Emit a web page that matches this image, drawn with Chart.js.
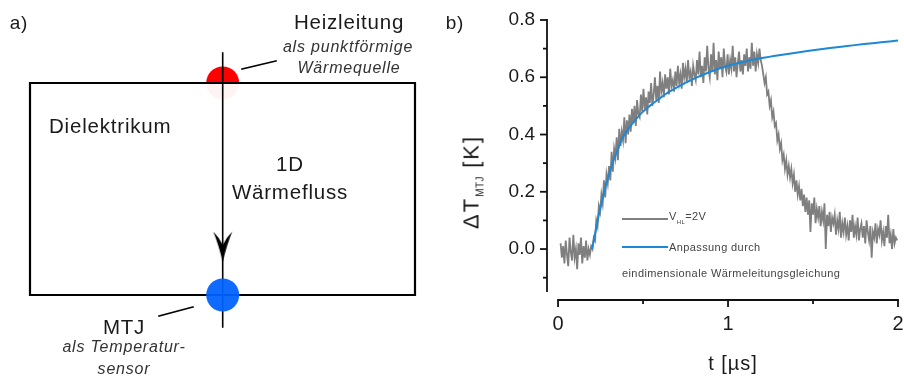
<!DOCTYPE html>
<html>
<head>
<meta charset="utf-8">
<script src="https://cdn.jsdelivr.net/npm/chart.js@4.4.0/dist/chart.umd.min.js"></script>
<style>
  html, body { margin:0; padding:0; background:#fff; }
  #wrap { position:relative; width:904px; height:378px; overflow:hidden; font-family:"Liberation Sans", Arial, sans-serif; color:#1a1a1a; }
  canvas { position:absolute; top:0; }
  .t { position:absolute; white-space:nowrap; line-height:1; }
  .c { transform:translate(-50%,-50%); }
  .l { transform:translate(0,-50%); }
  .big { font-size:20.5px; letter-spacing:0.8px; }
  .it { font-style:italic; font-size:16px; letter-spacing:0.8px; color:#333; }
  .leg { font-size:11px; letter-spacing:0.4px; color:#444; }
  .line { position:absolute; height:2px; }
</style>
</head>
<body>
<div id="wrap">
  <canvas id="schema" width="450" height="378" style="left:0;width:450px;height:378px"></canvas>
  <canvas id="plot" width="454" height="378" style="left:450px;width:454px;height:378px"></canvas>

  <div class="t c big" style="left:19px;top:22px;font-size:19px">a)</div>
  <div class="t c big" style="left:349px;top:22px">Heizleitung</div>
  <div class="t c it" style="left:348px;top:47px">als punktförmige</div>
  <div class="t c it" style="left:349px;top:68px">Wärmequelle</div>
  <div class="t l big" style="left:49px;top:126px">Dielektrikum</div>
  <div class="t c big" style="left:290px;top:164px">1D</div>
  <div class="t c big" style="left:290px;top:192px">Wärmefluss</div>
  <div class="t c big" style="left:124px;top:327px">MTJ</div>
  <div class="t c it" style="left:124px;top:347px">als Temperatur-</div>
  <div class="t c it" style="left:124px;top:369px">sensor</div>

  <div class="t c big" style="left:455px;top:22px;font-size:19px">b)</div>
  <div class="t" style="left:473px;top:182px;transform:translate(-50%,-50%) rotate(-90deg);font-size:22px;letter-spacing:2px">ΔT<sub style="font-size:10px;vertical-align:-5px;letter-spacing:0.5px">MTJ</sub> [K]</div>
  <div class="t c" style="left:733px;top:363px;font-size:20px;letter-spacing:1px">t [µs]</div>

  <div class="line" style="left:622px;top:218px;width:46px;height:1.5px;background:#7f7f7f"></div>
  <div class="t l leg" style="left:669px;top:218px">V<sub style="font-size:6px;vertical-align:-4px">HL</sub>=2V</div>
  <div class="line" style="left:622px;top:246px;width:46px;background:#1c88d6"></div>
  <div class="t l leg" style="left:669px;top:247px">Anpassung durch</div>
  <div class="t l leg" style="left:622px;top:273px">eindimensionale Wärmeleitungsgleichung</div>
</div>

<script>
// ---------------- data: panel b ----------------
const sampleStart = 0.015;   // µs, first oscilloscope sample
const sampleStep = 0.0075;   // µs, sampling interval
const measuredDT = [
  0.02,-0.03,0.01,-0.05,0.03,-0.02,-0.06,0.04,-0.01,-0.04,0.05,-0.03,0.00,-0.07,0.02,-0.02,0.04,-0.05,0.01,-0.03,0.03,-0.04,0.00,-0.02,0.01,
  0.00,0.04,0.03,0.10,0.08,0.15,0.13,0.19,0.16,0.24,0.18,0.26,0.23,0.29,0.24,0.34,0.27,0.35,0.32,0.39,0.31,0.42,0.36,0.41,0.38,0.46,0.37,
  0.45,0.40,0.47,0.41,0.49,0.44,0.50,0.43,0.52,0.47,0.46,0.54,0.48,0.56,0.49,0.53,0.47,0.55,0.51,0.58,0.50,0.54,0.60,0.52,0.57,0.51,0.62,0.55,0.58,0.53,0.61,0.56,0.60,0.54,0.63,0.57,0.59,0.55,0.62,0.57,0.64,0.58,0.61,0.56,0.65,0.60,0.63,0.58,0.66,0.60,0.62,0.57,0.64,0.61,
  0.59,0.66,0.61,0.69,0.60,0.64,0.58,0.67,0.62,0.71,0.63,0.60,0.68,0.62,0.72,0.61,0.66,0.59,0.69,0.63,0.67,0.60,0.70,0.64,0.62,0.68,0.61,0.66,0.63,0.71,0.62,0.67,0.60,0.65,0.69,0.62,0.66,0.61,0.68,0.64,0.70,0.62,0.67,0.63,0.72,0.64,0.69,0.62,0.68,0.65,0.70,0.66,
  0.64,0.61,0.58,0.60,0.54,0.55,0.50,0.52,0.46,0.48,0.43,0.44,0.38,0.40,0.35,0.37,0.31,0.33,0.28,0.31,0.26,0.29,0.25,0.28,0.23,0.26,0.20,0.24,0.19,0.22,0.17,0.21,0.15,0.19,0.13,0.18,0.12,0.17,0.06,0.16,
  0.12,0.18,0.09,0.14,0.11,0.15,0.08,0.13,0.10,0.16,0.00,0.12,0.08,0.13,0.06,0.11,0.09,0.12,0.05,0.10,0.07,0.13,0.04,0.09,0.06,0.11,0.05,0.08,0.03,0.10,0.06,0.12,0.04,0.08,0.05,0.11,0.03,0.07,0.09,0.04,0.08,0.02,0.10,0.06,0.03,0.08,-0.03,0.06,0.04,0.09,0.02,0.07,0.05,0.10,0.03,0.06,0.01,0.08,0.04,0.12,0.02,0.05,0.00,0.07,0.02,0.04,0.03
];
const fitTime = [0.20,0.22,0.24,0.26,0.28,0.30,0.32,0.35,0.38,0.42,0.46,0.50,0.55,0.60,0.65,0.70,0.80,0.90,1.00,1.10,1.20,1.30,1.40,1.50,1.60,1.70,1.80,1.90,2.00];
const fitDT   = [0.00,0.06,0.12,0.17,0.22,0.26,0.30,0.345,0.39,0.425,0.455,0.48,0.505,0.527,0.548,0.565,0.595,0.62,0.64,0.655,0.667,0.677,0.686,0.694,0.702,0.709,0.716,0.722,0.728];
const xTickValues = [0, 1, 2];
const xMinorValues = [0.5, 1.5];
const yTickValues = [0.0, 0.2, 0.4, 0.6, 0.8];
const yMinorValues = [-0.1, 0.1, 0.3, 0.5, 0.7];
const xRange = [-0.065, 2.0];
const yRange = [-0.15, 0.8];

// ---------------- data: panel a (schematic, drawing units) ----------------
const boxX = [30, 415, 415, 30, 30];
const boxY = [83, 83, 295, 295, 83];
const flowX = [222.7, 222.7];
const flowY = [53, 327];
const heaterPos = [222.7, 83];
const sensorPos = [222.7, 295];
const arrowPos = [222.7, 247];
const heaterLeaderX = [242, 276];
const heaterLeaderY = [69, 61];
const sensorLeaderX = [159, 193];
const sensorLeaderY = [316, 307];

const FONT = '"Liberation Sans", Arial, sans-serif';

// ---------------- panel a ----------------
const toPts = (xs, ys) => xs.map((x, i) => ({x, y: ys[i]}));
const arrowImg = document.createElement('canvas');
arrowImg.width = 20; arrowImg.height = 32;
(function(){
  const g = arrowImg.getContext('2d');
  g.fillStyle = '#000';
  g.beginPath();
  g.moveTo(10, 31);
  g.quadraticCurveTo(6, 14, 0.5, 0.5);
  g.quadraticCurveTo(6, 6, 10, 14);
  g.quadraticCurveTo(14, 6, 19.5, 0.5);
  g.quadraticCurveTo(14, 14, 10, 31);
  g.closePath();
  g.fill();
})();

const lineDS = (data, order, width) => ({
  data, order, showLine: true, borderColor: '#000', borderWidth: width,
  pointRadius: 0, fill: false, borderCapStyle: 'square', borderJoinStyle: 'miter'
});

new Chart(document.getElementById('schema'), {
  type: 'scatter',
  data: {
    datasets: [
      { data: [{x: heaterPos[0], y: heaterPos[1]}], order: 10, pointRadius: 16.5,
        pointBackgroundColor: '#ff0000', pointBorderWidth: 0, showLine: false },
      { data: toPts([boxX[0], boxX[1]], [boxY[0], boxY[1]]), order: 9, showLine: true,
        borderWidth: 0, pointRadius: 0, fill: {value: boxY[2]}, backgroundColor: 'rgba(255,255,255,0.955)' },
      lineDS(toPts(boxX, boxY), 8, 2.2),
      lineDS(toPts(flowX, flowY), 7, 1.6),
      { data: [{x: sensorPos[0], y: sensorPos[1]}], order: 6, pointRadius: 16.5,
        pointBackgroundColor: 'rgba(0,98,255,0.94)', pointBorderWidth: 0, showLine: false },
      { data: [{x: arrowPos[0], y: arrowPos[1]}], order: 5, pointStyle: arrowImg, pointRadius: 10, showLine: false },
      lineDS(toPts(heaterLeaderX, heaterLeaderY), 4, 1.6),
      lineDS(toPts(sensorLeaderX, sensorLeaderY), 3, 1.6)
    ]
  },
  options: {
    responsive: false, animation: false, events: [],
    layout: { padding: 0, autoPadding: false },
    plugins: { legend: {display: false}, tooltip: {enabled: false} },
    scales: {
      x: { type: 'linear', display: false, min: 0, max: 450 },
      y: { type: 'linear', display: false, min: 0, max: 378, reverse: true }
    }
  }
});

// ---------------- panel b ----------------
const axesPlugin = {
  id: 'originAxes',
  afterDraw(chart) {
    const {ctx, chartArea: a, scales: {x, y}} = chart;
    ctx.save();
    ctx.strokeStyle = '#111';
    ctx.lineWidth = 1.8;
    const seg = (x1, y1, x2, y2) => { ctx.beginPath(); ctx.moveTo(x1, y1); ctx.lineTo(x2, y2); ctx.stroke(); };
    const yx = a.left;
    seg(yx, y.getPixelForValue(yRange[0]), yx, y.getPixelForValue(yRange[1]) - 0.9);
    yTickValues.forEach(v => { const p = y.getPixelForValue(v); seg(yx - 7, p, yx, p); });
    yMinorValues.forEach(v => { const p = y.getPixelForValue(v); seg(yx - 4, p, yx, p); });
    const xy = a.bottom + 8;
    seg(x.getPixelForValue(xTickValues[0]) - 0.9, xy, x.getPixelForValue(xTickValues[xTickValues.length-1]) + 0.9, xy);
    xTickValues.forEach(v => { const p = x.getPixelForValue(v); seg(p, xy, p, xy + 7); });
    xMinorValues.forEach(v => { const p = x.getPixelForValue(v); seg(p, xy, p, xy + 4); });
    ctx.restore();
  }
};

const zeroPad = s => { s.paddingLeft = 0; s.paddingRight = 0; s.paddingTop = 0; s.paddingBottom = 0; };

new Chart(document.getElementById('plot'), {
  type: 'line',
  data: {
    datasets: [
      { label: 'Anpassung', data: fitTime.map((t, i) => ({x: t, y: fitDT[i]})), order: 0,
        borderColor: '#1c88d6', borderWidth: 2, pointRadius: 0, cubicInterpolationMode: 'monotone', fill: false },
      { label: 'VHL=2V', data: measuredDT.map((v, i) => ({x: sampleStart + i * sampleStep, y: v})), order: 1,
        borderColor: '#7f7f7f', borderWidth: 1.8, pointRadius: 0, tension: 0, fill: false }
    ]
  },
  options: {
    responsive: false, animation: false, events: [],
    layout: { padding: { top: 20, right: 6, left: 0, bottom: 0 }, autoPadding: false },
    plugins: { legend: {display: false}, tooltip: {enabled: false} },
    scales: {
      x: {
        type: 'linear', min: xRange[0], max: xRange[1],
        afterFit(s) { s.height = 86; zeroPad(s); },
        afterBuildTicks(s) { s.ticks = xTickValues.map(v => ({value: v})); },
        grid: { display: false, drawTicks: false }, border: { display: false },
        ticks: { padding: 20, color: '#1a1a1a', font: { family: FONT, size: 20 }, maxRotation: 0,
                 callback: v => String(v) }
      },
      y: {
        type: 'linear', min: yRange[0], max: yRange[1],
        afterFit(s) { s.width = 97; zeroPad(s); },
        afterBuildTicks(s) { s.ticks = yTickValues.map(v => ({value: v})); },
        grid: { display: false, drawTicks: false }, border: { display: false },
        ticks: { padding: 12, color: '#1a1a1a', font: { family: FONT, size: 19 },
                 callback: v => Number(v).toFixed(1) }
      }
    }
  },
  plugins: [axesPlugin]
});
</script>
</body>
</html>
